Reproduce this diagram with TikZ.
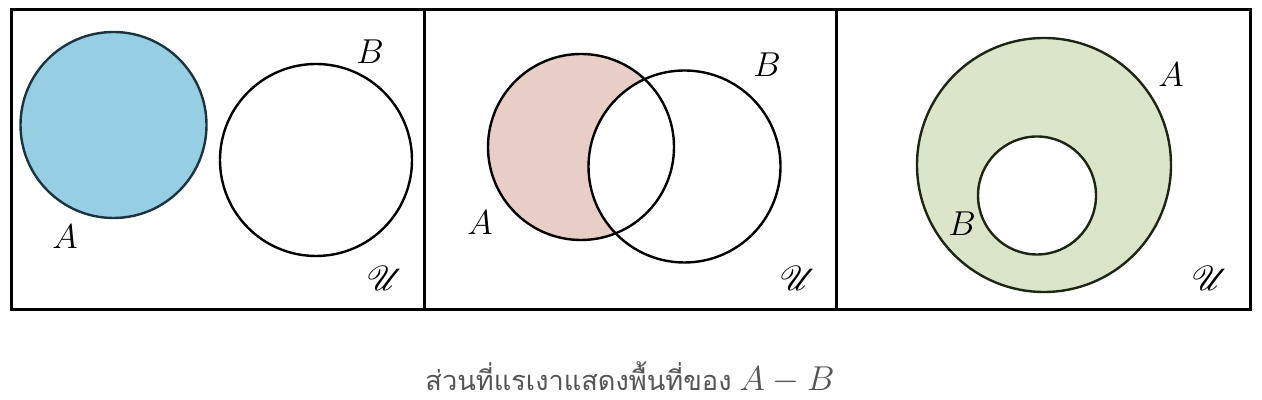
\documentclass[tikz,border=0pt]{standalone}
\usepackage{fontspec}
\usepackage{mathrsfs}
\newfontfamily\thaifont[Script=Thai]{Loma}
\definecolor{blueA}{HTML}{96CEE4}
\definecolor{pinkA}{HTML}{E8CEC6}
\definecolor{greenA}{HTML}{DAE5CA}
\definecolor{tealline}{HTML}{1A3440}
\definecolor{oliveline}{HTML}{1C2612}
\definecolor{captiongray}{HTML}{555555}
\tikzset{
  frame/.style={line width=1.5pt},
  setline/.style={line width=1.2pt},
  lbl/.style={font=\fontsize{18}{20}\selectfont, inner sep=0pt},
}
\begin{document}
\begin{tikzpicture}[x=0.5pt,y=0.5pt]
\useasboundingbox (0,0) rectangle (1262,400);
% panel 1
\fill[blueA] (113.5,275) circle (93);
\draw[setline,draw=tealline] (113.5,275) circle (93);
\draw[setline] (316,240) circle (96);
\node[lbl] (a1) at (65,163) {$A$};
\node[lbl] (b1) at (370,348) {$B$};
\node[lbl] (u1) at (385,122) {$\mathscr{U}$};
% panel 2
\fill[pinkA] (581,253) circle (93);
\fill[white] (684.5,233.5) circle (96);
\draw[setline] (581,253) circle (93);
\draw[setline] (684.5,233.5) circle (96);
\node[lbl] (a2) at (480,177) {$A$};
\node[lbl] (b2) at (767,335) {$B$};
\node[lbl] (u2) at (798,122) {$\mathscr{U}$};
% panel 3
\fill[greenA] (1044,235) circle (127);
\fill[white] (1037,204.5) circle (59);
\draw[setline,draw=oliveline] (1044,235) circle (127);
\draw[setline,draw=oliveline] (1037,204.5) circle (59);
\node[lbl] (a3) at (1171,325) {$A$};
\node[lbl] (b3) at (962,176) {$B$};
\node[lbl] (u3) at (1210,122) {$\mathscr{U}$};
% frames
\draw[frame] (11,90) rectangle (1250,390);
\draw[frame] (424,90) -- (424,390);
\draw[frame] (836,90) -- (836,390);
% caption
\node[inner sep=0pt, anchor=base, text=captiongray] (cap) at (630,9) {{\fontsize{13.6}{15}\selectfont\thaifont ส่วนที่แรเงาแสดงพื้นที่ของ}\hspace{4pt}{\fontsize{17}{19}\selectfont$A-B$}};
\end{tikzpicture}
\end{document}
